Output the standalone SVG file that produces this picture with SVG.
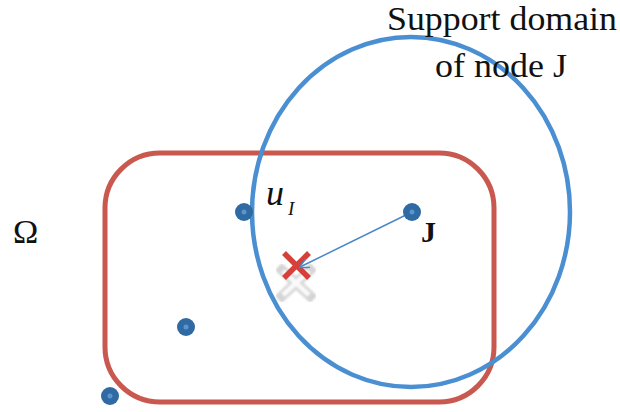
<svg xmlns="http://www.w3.org/2000/svg" width="620" height="412" viewBox="0 0 620 412">
<style>
.t{font-family:"Liberation Serif","Times New Roman",serif;fill:#111}
.node{fill:#2f6aa3}
.core{fill:#5b95cf}
</style>
<defs>
<marker id="ah" viewBox="0 0 10 10" refX="9" refY="5" markerWidth="10" markerHeight="10" orient="auto" markerUnits="userSpaceOnUse">
<path d="M0,0 L10,5 L0,10" fill="none" stroke="#4a86c8" stroke-width="1.5"/>
</marker>
<filter id="bl" x="-20%" y="-20%" width="140%" height="140%"><feGaussianBlur stdDeviation="1.2"/></filter>
</defs>
<rect width="620" height="412" fill="#fff"/>
<g id="domain">
<rect x="105" y="153" width="389" height="249" rx="55" ry="55" fill="none" stroke="#c9584f" stroke-width="5"/>
</g>
<g id="support">
<ellipse cx="411" cy="212" rx="159" ry="175" fill="none" stroke="#4a8fd2" stroke-width="4.5"/>
</g>
<g id="point">
<g filter="url(#bl)" transform="translate(0,16)">
<path d="M282,254 L310,280 M310,254 L282,280" stroke="#d4d4d4" stroke-width="10" stroke-linecap="square"/>
<path d="M283,255 L309,279 M309,255 L283,279" stroke="#fafafa" stroke-width="5"/>
</g>
<path d="M284,253 L309,278 M309,253 L284,278" stroke="#d6403a" stroke-width="5.5"/>
</g>
<g id="connectors">
<line x1="412" y1="212" x2="300" y2="267" stroke="#4a86c8" stroke-width="1.5" marker-end="url(#ah)"/>
</g>
<g id="nodeI"><circle cx="244" cy="212" r="9" class="node"/><circle cx="244" cy="212" r="2.5" class="core"/></g>
<g id="nodeJ"><circle cx="412" cy="212" r="9" class="node"/><circle cx="412" cy="212" r="2.5" class="core"/></g>
<g id="node3"><circle cx="186" cy="327" r="9" class="node"/><circle cx="186" cy="327" r="2.5" class="core"/></g>
<g id="node4"><circle cx="110" cy="396" r="9" class="node"/><circle cx="110" cy="396" r="2.5" class="core"/></g>
<g id="labels">
<text class="t" x="387" y="30" font-size="33" textLength="230" lengthAdjust="spacingAndGlyphs">Support domain</text>
<text class="t" x="435" y="77" font-size="33" textLength="132" lengthAdjust="spacingAndGlyphs">of node J</text>
<text class="t" x="266" y="205" font-size="36" font-style="italic">u</text>
<text class="t" x="288" y="215" font-size="19" font-style="italic">I</text>
<text class="t" x="421" y="242" font-size="30" font-weight="bold">J</text>
<text class="t" x="13" y="243" font-size="34">Ω</text>
</g>
</svg>
